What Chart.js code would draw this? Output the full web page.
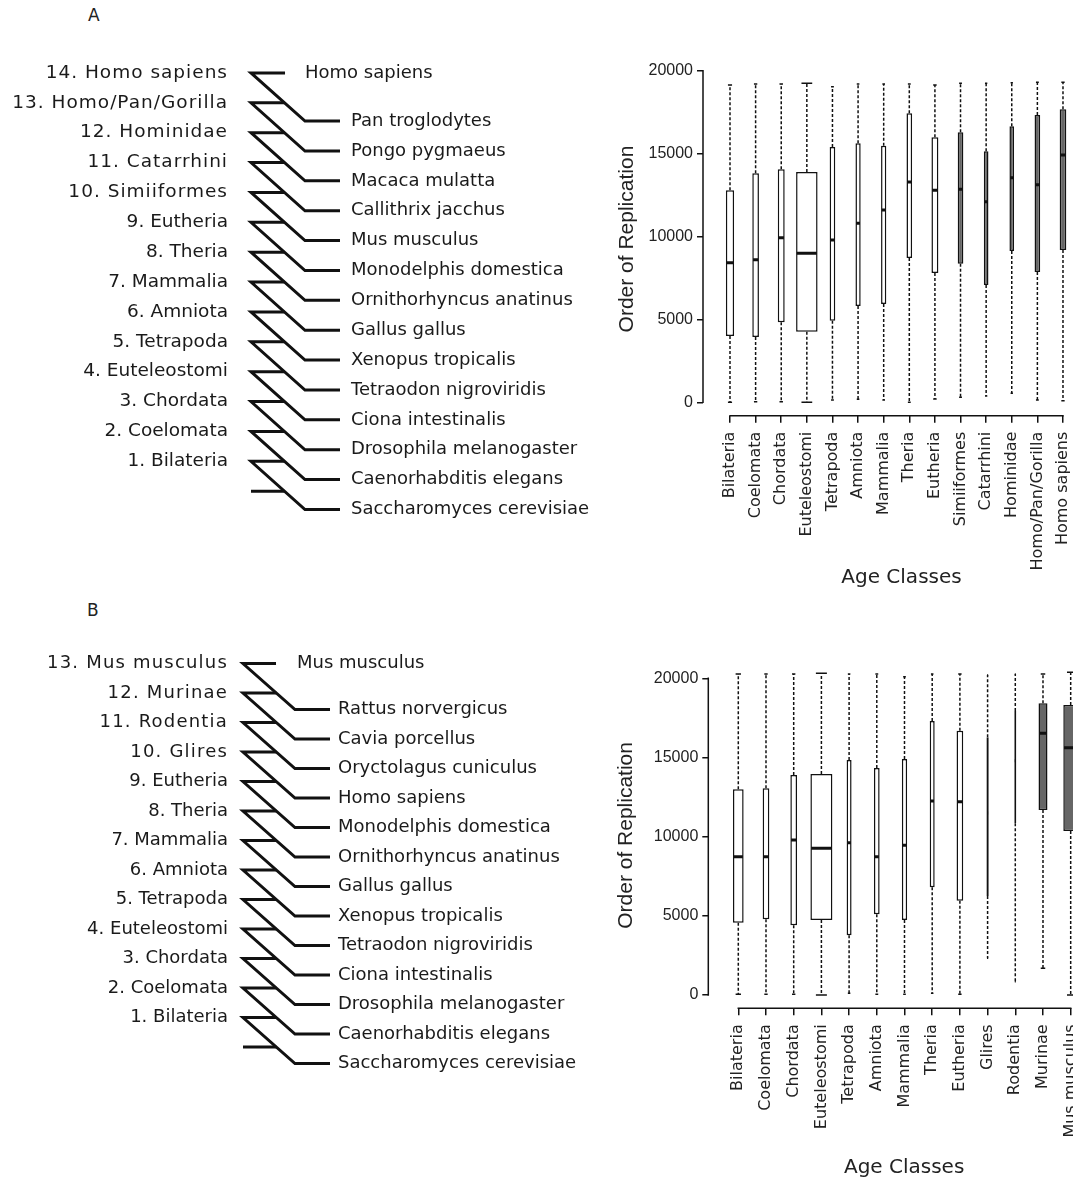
<!DOCTYPE html>
<html>
<head>
<meta charset="utf-8">
<script src="https://cdn.jsdelivr.net/npm/chart.js@4.4.1/dist/chart.umd.min.js"></script>
<style>
html,body{margin:0;padding:0;width:1073px;height:1179px;overflow:hidden;background:#fff;}
canvas{position:absolute;}
.panel{position:absolute;font-family:"DejaVu Sans",sans-serif;font-size:17px;line-height:20px;color:#222;}
</style>
</head>
<body>
<div class="panel" style="left:88px;top:5px;">A</div>
<div class="panel" style="left:87px;top:600px;">B</div>
<canvas id="treeA" width="600" height="478" style="left:0px;top:43px;"></canvas>
<canvas id="boxA" width="520" height="550" style="left:600px;top:40px;"></canvas>
<canvas id="treeB" width="600" height="472" style="left:0px;top:634px;"></canvas>
<canvas id="boxB" width="520" height="540" style="left:600px;top:640px;"></canvas>
<script>
// ---------------- DATA ----------------
const ageClassesA = ["Bilateria","Coelomata","Chordata","Euteleostomi","Tetrapoda","Amniota","Mammalia","Theria","Eutheria","Simiiformes","Catarrhini","Hominidae","Homo/Pan/Gorilla","Homo sapiens"];
const speciesA = ["Homo sapiens","Pan troglodytes","Pongo pygmaeus","Macaca mulatta","Callithrix jacchus","Mus musculus","Monodelphis domestica","Ornithorhyncus anatinus","Gallus gallus","Xenopus tropicalis","Tetraodon nigroviridis","Ciona intestinalis","Drosophila melanogaster","Caenorhabditis elegans","Saccharomyces cerevisiae"];
const minA    = [0, 40, 40, 0, 140, 180, 140, 0, 200, 300, 380, 540, 140, 100];
const q1A     = [4000, 3940, 4824, 4261, 4925, 5809, 5930, 8704, 7799, 8362, 7075, 9126, 7859, 9186];
const medianA = [8422, 8603, 9930, 8985, 9789, 10794, 11598, 13286, 12784, 12844, 12101, 13548, 13126, 14915];
const q3A     = [12784, 13809, 14050, 13889, 15397, 15618, 15477, 17427, 15980, 16281, 15136, 16643, 17327, 17668];
const maxA    = [19136, 19196, 19196, 19236, 19035, 19196, 19196, 19196, 19136, 19236, 19236, 19276, 19296, 19296];
const groupSizeA = [690, 450, 490, 4700, 325, 280, 280, 325, 490, 325, 220, 220, 325, 450];
const firstShadedA = 9;

const ageClassesB = ["Bilateria","Coelomata","Chordata","Euteleostomi","Tetrapoda","Amniota","Mammalia","Theria","Eutheria","Glires","Rodentia","Murinae","Mus musculus"];
const speciesB = ["Mus musculus","Rattus norvergicus","Cavia porcellus","Oryctolagus cuniculus","Homo sapiens","Monodelphis domestica","Ornithorhyncus anatinus","Gallus gallus","Xenopus tropicalis","Tetraodon nigroviridis","Ciona intestinalis","Drosophila melanogaster","Caenorhabditis elegans","Saccharomyces cerevisiae"];
const minB    = [42, 42, 42, 0, 105, 42, 42, 105, 42, 2316, 842, 1684, 0];
const q1B     = [4568, 4779, 4400, 4737, 3768, 5095, 4737, 6800, 5958, 6253, 10842, 11684, 10358];
const medianB = [8737, 8737, 9789, 9263, 9621, 8737, 9453, 12253, 12211, 11500, 14800, 16526, 15621];
const q3B     = [12989, 13053, 13895, 13958, 14842, 14337, 14905, 17305, 16695, 16274, 17937, 18421, 18316];
const maxB    = [20274, 20274, 20274, 20316, 20274, 20274, 20105, 20274, 20274, 20211, 20274, 20274, 20379];
const groupSizeB = [1146, 450, 450, 4850, 250, 325, 280, 250, 450, 53, 40, 811, 2194];
const firstShadedB = 9;

const yTicks = [0, 5000, 10000, 15000, 20000];

// ---------------- DRAWING ----------------
Chart.defaults.animation = false;
Chart.defaults.color = '#222';
Chart.defaults.font.family = '"DejaVu Sans", sans-serif';

function makeTree(id, classes, species, geo) {
  const nNodes = classes.length;
  const nodeNums = classes.map((c, i) => i + 1).reverse();
  const nodeLabels = classes.map((c, i) => (i + 1) + '. ' + c).reverse();
  const datasets = [];
  for (let k = 0; k <= nNodes; k++) {
    const pts = [{x: k === 0 ? geo.topLen : 1 / geo.leafOffset, y: k}, {x: 0, y: k}];
    if (k < nNodes) {
      pts.push({x: 1, y: k + geo.leafOffset});
      pts.push({x: 1 + geo.leafLen, y: k + geo.leafOffset});
    }
    datasets.push({data: pts, showLine: true, borderColor: '#111', borderWidth: 3, pointRadius: 0,
      borderJoinStyle: 'miter', borderCapStyle: 'butt', tension: 0, fill: false});
  }
  const labels = {
    id: 'treeLabels',
    afterDatasetsDraw(chart) {
      const {ctx, scales: {x, y}} = chart;
      ctx.save();
      ctx.fillStyle = '#1a1a1a';
      ctx.textBaseline = 'middle';
      ctx.font = geo.nodeFont;
      ctx.textAlign = 'right';
      nodeLabels.forEach((t, k) => {
        ctx.letterSpacing = nodeNums[k] >= 10 ? geo.wideSpacing : '0px';
        ctx.fillText(t, x.getPixelForValue(0) - geo.nodeGap, y.getPixelForValue(k));
      });
      ctx.letterSpacing = '0px';
      ctx.font = geo.leafFont;
      ctx.textAlign = 'left';
      species.forEach((t, j) => {
        const yy = j === 0 ? 0 : (j - 1) + geo.leafOffset;
        const xx = j === 0 ? x.getPixelForValue(1) + geo.topGap : x.getPixelForValue(1 + geo.leafLen) + geo.leafGap;
        ctx.fillText(t, xx, y.getPixelForValue(yy));
      });
      ctx.restore();
    }
  };
  new Chart(document.getElementById(id), {
    type: 'scatter',
    data: {datasets},
    options: {
      responsive: false, devicePixelRatio: 1, animation: false, events: [],
      layout: {padding: 0},
      plugins: {legend: {display: false}, tooltip: {enabled: false}},
      scales: {
        x: {type: 'linear', display: false, min: geo.xMin, max: geo.xMax},
        y: {type: 'linear', display: false, reverse: true, min: -1, max: 15}
      }
    },
    plugins: [labels]
  });
}

function makeBox(id, classes, mins, q1s, meds, q3s, maxs, sizes, firstShaded, geo) {
  const maxN = Math.max(...sizes);
  const boxW = sizes.map(n => geo.maxBoxPx * Math.sqrt(n / maxN));
  const datasets = [];
  const wData = [];
  classes.forEach((c, i) => {
    wData.push({x: i, y: q3s[i]}, {x: i, y: maxs[i]}, {x: i, y: null},
               {x: i, y: q1s[i]}, {x: i, y: mins[i]}, {x: i, y: null});
  });
  datasets.push({type: 'scatter', data: wData, showLine: true, spanGaps: false, borderColor: '#111',
    borderWidth: 1.5, borderDash: [3, 2], pointRadius: 0, order: 3});
  classes.forEach((c, i) => {
    datasets.push({type: 'bar', data: [{x: i, y: [q1s[i], q3s[i]]}], grouped: false,
      barThickness: boxW[i], backgroundColor: i >= firstShaded ? '#666666' : '#ffffff',
      borderColor: '#111', borderWidth: 1.5, borderSkipped: false, inflateAmount: 0, order: 2});
  });
  const capData = [];
  classes.forEach((c, i) => capData.push({x: i, y: mins[i]}, {x: i, y: maxs[i]}));
  datasets.push({type: 'scatter', data: capData, pointStyle: 'line',
    pointRadius: ctx => boxW[Math.floor((ctx.dataIndex || 0) / 2)] / 4,
    pointBorderWidth: 1.5, pointBorderColor: '#111', showLine: false, order: 1});
  datasets.push({type: 'scatter', data: classes.map((c, i) => ({x: i, y: meds[i]})), pointStyle: 'line',
    pointRadius: ctx => Math.max(boxW[ctx.dataIndex || 0] / 2 - 0.75, 0.5),
    pointBorderWidth: 3, pointBorderColor: '#111', showLine: false, order: 0});

  const axisLines = {
    id: 'rAxes',
    afterDraw(chart) {
      const {ctx, chartArea, scales: {x, y}} = chart;
      ctx.save();
      ctx.strokeStyle = '#111';
      ctx.lineWidth = 1.5;
      ctx.beginPath();
      ctx.moveTo(chartArea.left, y.getPixelForValue(yTicks[0]) + 0.75);
      ctx.lineTo(chartArea.left, y.getPixelForValue(yTicks[yTicks.length - 1]) - 0.75);
      ctx.moveTo(x.getPixelForValue(0) - 0.75, chartArea.bottom);
      ctx.lineTo(x.getPixelForValue(classes.length - 1) + 0.75, chartArea.bottom);
      ctx.stroke();
      ctx.restore();
    }
  };

  new Chart(document.getElementById(id), {
    type: 'scatter',
    data: {datasets},
    options: {
      responsive: false, devicePixelRatio: 1, animation: false, events: [],
      layout: {padding: geo.padding},
      plugins: {legend: {display: false}, tooltip: {enabled: false}},
      scales: {
        x: {
          type: 'linear', min: geo.xMin, max: geo.xMax, offset: false,
          border: {display: false},
          grid: {offset: false, drawOnChartArea: false, drawTicks: true, tickLength: 7, color: '#111', lineWidth: 1.5},
          afterBuildTicks: axis => { axis.ticks = classes.map((c, i) => ({value: i})); },
          afterFit: s => { s.height = geo.xAxisHeight; },
          ticks: {autoSkip: false, minRotation: 90, maxRotation: 90, padding: 9, color: '#222',
            font: {family: '"DejaVu Sans"', size: 16}, callback: v => classes[v]},
          title: {display: true, text: 'Age Classes', color: '#222',
            font: {family: '"DejaVu Sans"', size: 20}, padding: {top: 0, bottom: 0}}
        },
        y: {
          type: 'linear', min: geo.yMin, max: geo.yMax, offset: false,
          border: {display: false},
          grid: {offset: false, drawOnChartArea: false, drawTicks: true, tickLength: 6, color: '#111', lineWidth: 1.5},
          afterBuildTicks: axis => { axis.ticks = yTicks.map(v => ({value: v})); },
          afterFit: s => { s.width = geo.yAxisWidth; },
          ticks: {padding: 4, color: '#222', font: {family: '"Liberation Sans"', size: 16}, callback: v => String(v)},
          title: {display: true, text: 'Order of Replication', color: '#222',
            font: {family: '"Liberation Sans"', size: 21}, padding: {top: 0, bottom: 0}}
        }
      }
    },
    plugins: [axisLines]
  });
}

makeTree('treeA', ageClassesA, speciesA, {
  xMin: -251 / 54, xMax: (600 - 251) / 54, leafOffset: 1.615, topLen: 0.63, leafLen: 0.648,
  nodeGap: 23, leafGap: 11, topGap: 0, wideSpacing: '1px',
  nodeFont: '18.5px "DejaVu Sans"', leafFont: '18px "DejaVu Sans"'
});
makeTree('treeB', ageClassesB, speciesB, {
  xMin: -243 / 52, xMax: (600 - 243) / 52, leafOffset: 1.56, topLen: 0.635, leafLen: 0.673,
  nodeGap: 15, leafGap: 8, topGap: 2, wideSpacing: '1.2px',
  nodeFont: '18px "DejaVu Sans"', leafFont: '18px "DejaVu Sans"'
});
makeBox('boxA', ageClassesA, minA, q1A, medianA, q3A, maxA, groupSizeA, firstShadedA, {
  xMin: -1.054, xMax: 14.445, yMin: -808, yMax: 20500,
  xAxisHeight: 174.3, yAxisWidth: 88, maxBoxPx: 21.5,
  padding: {left: 15, top: 22.4, right: 20, bottom: 0}
});
makeBox('boxB', ageClassesB, minB, q1B, medianB, q3B, maxB, groupSizeB, firstShadedB, {
  xMin: -1.083, xMax: 13.058, yMin: -840, yMax: 21000,
  xAxisHeight: 171.7, yAxisWidth: 94.9, maxBoxPx: 22,
  padding: {left: 13.4, top: 22.5, right: 20, bottom: 0}
});
</script>
</body>
</html>
